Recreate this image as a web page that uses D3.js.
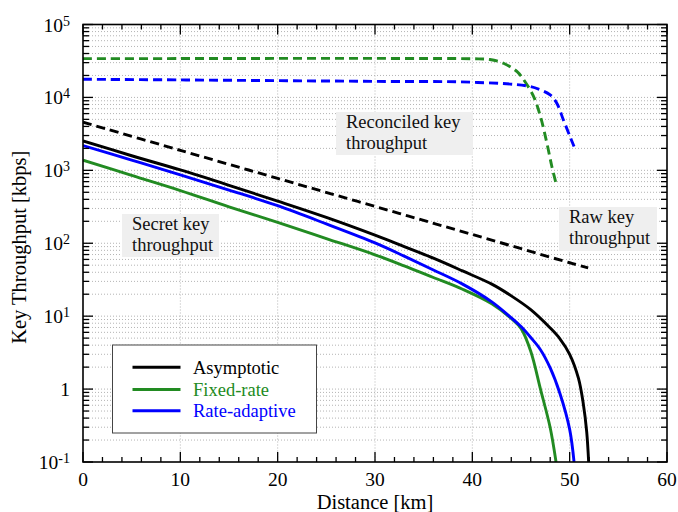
<!DOCTYPE html>
<html><head><meta charset="utf-8">
<script src="https://cdn.jsdelivr.net/npm/d3@7"></script>
<style>
body{margin:0;background:#fff;}
</style></head>
<body><svg id="c" width="678" height="512" font-family="'Liberation Serif','DejaVu Serif',serif" style="font-family:'Liberation Serif','DejaVu Serif',serif"></svg>
<script>
// Secret key throughput (solid)
const asymDist  = [0,5,10,15,20,25,30,33,36,39,42,44,46,48,49,50,50.9,51.4,51.75,51.95];
const asymVals  = [2535,1585,1012,624,378,226,129,90,62.4,41.7,27.5,19,12.3,6.9,4.9,3.0,1.41,0.63,0.26,0.1];
const adaptDist = [0,5,10,15,20,25,30,33,36,39,42,44,45,46,47,48,49,50,50.45];
const adaptVals = [2188,1380,867,537,327,184,101,66.5,43,27.5,15.7,9.5,7.2,5.1,3.47,1.95,0.87,0.28,0.1];
const fixedDist = [0,5,10,15,20,25,30,33,36,39,42,44,45,46,47,48,48.6];
const fixedVals = [1380,851,528,316,193,116,69.5,49,33.9,23.4,14.8,9.3,6.8,3.3,1.0,0.295,0.1];
// Reconciled key throughput (dashed)
const recFixedDist = [0,10,20,30,40,41.8,43.2,44.6,45.4,46.3,47.0,47.66,48.17,48.68];
const recFixedVals = [34050,34100,34270,34270,33900,33100,29400,22600,16500,10260,5460,2360,1130,600];
const recAdaptDist = [0,10,20,30,40,45.6,47.0,48.0,48.68,49.36,50.04,50.45];
const recAdaptVals = [17740,17380,16980,16600,16140,14390,12680,10810,8320,4900,2900,2120];
// Raw key throughput (dashed black)
const rawDist = [0,10,20,30,40,50,51.9];
const rawVals = [4570,1880,776,320,132,54,46];

const xTicks = [0,10,20,30,40,50,60];
const yTickExp = [-1,0,1,2,3,4,5];
const legendLabels = ["Asymptotic","Fixed-rate","Rate-adaptive"];
const annotations = [
  {lines:["Reconciled key","throughput"], box:[336,112,137,43]},
  {lines:["Secret key","throughput"], box:[122,214,97,43]},
  {lines:["Raw key","throughput"], box:[559,207,98,44]}
];

const FONT="'Liberation Serif','DejaVu Serif',serif";
const BLACK="#000", GREEN="#228b22", BLUE="#0000ff";
const L=83, R=667, T=24.5, B=462;
const svg=d3.select("#c");
const x=d3.scaleLinear().domain([0,60]).range([L,R]);
const y=d3.scaleLog().domain([0.1,1e5]).range([B,T]);

// grid
const gridVals=[];
for(let e=-1;e<5;e++) for(let m=1;m<10;m++){ gridVals.push(m*Math.pow(10,e)); }
const g=svg.append("g");
g.selectAll("line.h").data(gridVals.filter(v=>v>0.1)).join("line")
 .attr("x1",L).attr("x2",R).attr("y1",d=>y(d)).attr("y2",d=>y(d))
 .attr("stroke","#b4b4b4").attr("stroke-width",1).attr("stroke-dasharray","1,2");
g.selectAll("line.v").data([10,20,30,40,50]).join("line")
 .attr("x1",d=>x(d)).attr("x2",d=>x(d)).attr("y1",T).attr("y2",B)
 .attr("stroke","#b4b4b4").attr("stroke-width",1).attr("stroke-dasharray","1,2");

// annotation boxes
annotations.forEach(a=>{
  svg.append("rect").attr("x",a.box[0]).attr("y",a.box[1]).attr("width",a.box[2]).attr("height",a.box[3]).attr("fill","#efefef");
  const t=svg.append("text").attr("font-family",FONT).attr("x",a.box[0]+10).attr("y",a.box[1]+15.5).attr("font-size",18.5).attr("fill","#111");
  a.lines.forEach((s,i)=>t.append("tspan").attr("x",a.box[0]+10).attr("dy",i?21.5:0).text(s));
});

// clip
svg.append("clipPath").attr("id","clip").append("rect").attr("x",L).attr("y",T).attr("width",R-L).attr("height",B-T);
const lines=svg.append("g").attr("clip-path","url(#clip)");
const mk=(ds,vs)=>ds.map((d,i)=>[d,vs[i]]);
const line=d3.line().x(d=>x(d[0])).y(d=>y(d[1])).curve(d3.curveCatmullRom.alpha(0.5));
const series=[
 {data:mk(rawDist,rawVals),c:BLACK,dash:"9,5"},
 {data:mk(recFixedDist,recFixedVals),c:GREEN,dash:"9,5"},
 {data:mk(recAdaptDist,recAdaptVals),c:BLUE,dash:"9,5"},
 {data:mk(fixedDist,fixedVals),c:GREEN},
 {data:mk(adaptDist,adaptVals),c:BLUE},
 {data:mk(asymDist,asymVals),c:BLACK}
];
series.forEach(s=>{
  lines.append("path").attr("d",line(s.data)).attr("fill","none").attr("stroke",s.c)
   .attr("stroke-width",2.9).attr("stroke-dasharray",s.dash||null);
});

// ticks (inward on all four sides)
const tk=svg.append("g").attr("stroke","#000").attr("stroke-width",1.3);
for(let v=0;v<=60;v+=2){
  const len=(v%10===0)?10:5;
  tk.append("line").attr("x1",x(v)).attr("x2",x(v)).attr("y1",B).attr("y2",B-len);
  tk.append("line").attr("x1",x(v)).attr("x2",x(v)).attr("y1",T).attr("y2",T+len);
}
gridVals.concat([1e5]).forEach(v=>{
  const e=Math.log10(v); const len=(Math.abs(e-Math.round(e))<1e-9)?10:6;
  tk.append("line").attr("x1",L).attr("x2",L+len).attr("y1",y(v)).attr("y2",y(v));
  tk.append("line").attr("x1",R).attr("x2",R-len).attr("y1",y(v)).attr("y2",y(v));
});
svg.append("rect").attr("x",L).attr("y",T).attr("width",R-L).attr("height",B-T)
 .attr("fill","none").attr("stroke","#000").attr("stroke-width",1.6);

// tick labels
svg.selectAll("text.xt").data(xTicks).join("text").attr("class","xt").attr("font-family",FONT)
 .attr("x",d=>x(d)).attr("y",486).attr("text-anchor","middle").attr("font-size",19.5).text(d=>d);
yTickExp.forEach(e=>{
  const t=svg.append("text").attr("font-family",FONT).attr("x",70).attr("y",y(Math.pow(10,e))+7).attr("text-anchor","end").attr("font-size",19.5);
  if(e===0){ t.text("1"); }
  else { t.append("tspan").text("10"); t.append("tspan").attr("font-size",14).attr("dy",-6).text(e); }
});

// axis titles
svg.append("text").attr("font-family",FONT).attr("x",(L+R)/2).attr("y",509).attr("text-anchor","middle").attr("font-size",20.5).text("Distance [km]");
svg.append("text").attr("font-family",FONT).attr("transform","translate(26,"+((T+B)/2+4)+") rotate(-90)").attr("text-anchor","middle").attr("font-size",20.5).text("Key Throughput [kbps]");

// legend
const lg=svg.append("g");
lg.append("rect").attr("x",112.5).attr("y",345).attr("width",204).attr("height",88).attr("fill","#fff").attr("stroke","#444").attr("stroke-width",1);
const lc=[BLACK,GREEN,BLUE], ly=[367.3,389.5,410.7];
legendLabels.forEach((s,i)=>{
  lg.append("line").attr("x1",132.5).attr("x2",180.5).attr("y1",ly[i]).attr("y2",ly[i]).attr("stroke",lc[i]).attr("stroke-width",2.9);
  lg.append("text").attr("font-family",FONT).attr("x",193).attr("y",ly[i]+6.5).attr("font-size",18.5).attr("fill",lc[i]).text(s);
});
</script></body></html>
